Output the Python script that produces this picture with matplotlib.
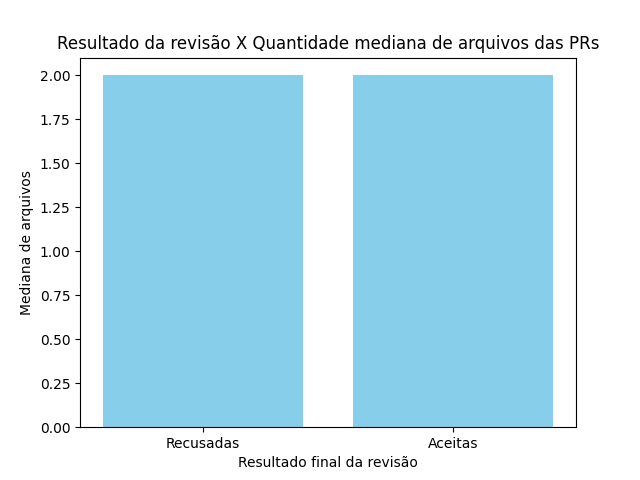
import matplotlib
matplotlib.use('Agg')
import matplotlib.pyplot as plt

resultados = ['Recusadas', 'Aceitas']
medianas = [2, 2]

fig, ax = plt.subplots(figsize=(6.4, 4.8), dpi=100)
ax.bar(resultados, medianas, color='skyblue')
ax.set_xlabel('Resultado final da revisão')
ax.set_ylabel('Mediana de arquivos')
ax.set_title('Resultado da revisão X Quantidade mediana de arquivos das PRs')

plt.savefig('out.png')
